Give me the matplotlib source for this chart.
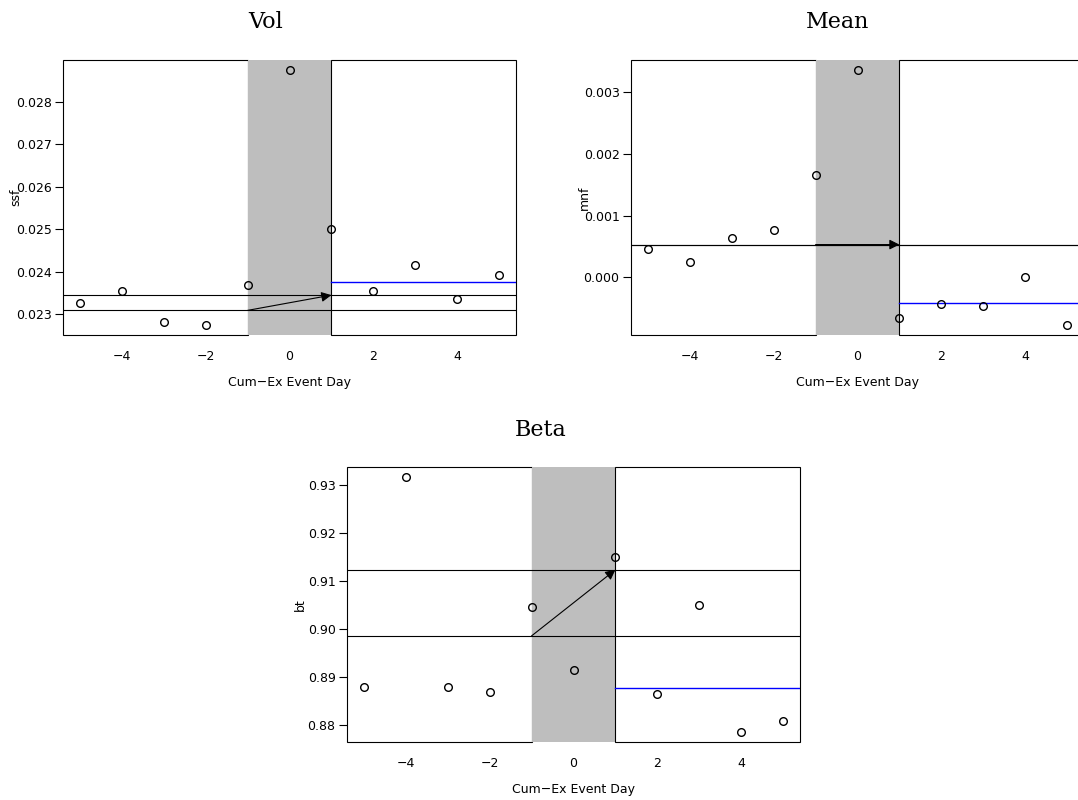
import matplotlib
matplotlib.use("Agg")
import matplotlib.pyplot as plt
from matplotlib.patches import Rectangle
from matplotlib.ticker import FormatStrFormatter

plt.rcParams['font.family'] = ['DejaVu Sans']

days = [-5, -4, -3, -2, -1, 0, 1, 2, 3, 4, 5]
x_ticks = [-4, -2, 0, 2, 4]

vol = [0.02326, 0.02354, 0.02281, 0.02275, 0.02368, 0.02875,
       0.02500, 0.02355, 0.02417, 0.02335, 0.02393]
vol_levels = [0.02309, 0.02345]
vol_post = 0.023755
vol_ticks = [0.023, 0.024, 0.025, 0.026, 0.027, 0.028]

mean = [0.000454, 0.000249, 0.000632, 0.000762, 0.001654, 0.003351,
        -0.000659, -0.000432, -0.000465, 0.000005, -0.000768]
mean_levels = [0.00053, 0.00053]
mean_post = -0.000415
mean_ticks = [0.000, 0.001, 0.002, 0.003]

beta = [0.8879, 0.9317, 0.8879, 0.8868, 0.9046, 0.8914,
        0.9150, 0.8865, 0.9050, 0.8786, 0.8809]
beta_levels = [0.8986, 0.9124]
beta_post = 0.8877
beta_ticks = [0.88, 0.89, 0.90, 0.91, 0.92, 0.93]

W, H = 1078, 800
fig = plt.figure(figsize=(W / 100, H / 100), dpi=100)

AX_W, AX_H = 453, 275
LW = 0.8


def panel(left_px, bottom_px, title, title_xy, ylab, vals, levels, post,
          yticks, fmt):
    ax = fig.add_axes([left_px / W, (H - bottom_px) / H, AX_W / W, AX_H / H])
    xlo, xhi = -5.4, 5.4
    vmin, vmax = min(vals), max(vals)
    r = vmax - vmin
    ylo, yhi = vmin - 0.04 * r, vmax + 0.04 * r
    ax.set_xlim(xlo, xhi)
    ax.set_ylim(ylo, yhi)
    for s in ax.spines.values():
        s.set_visible(False)
    # regions
    ax.add_patch(Rectangle((xlo, ylo), -1 - xlo, yhi - ylo, facecolor='white',
                           edgecolor='black', lw=LW, clip_on=False, zorder=1))
    ax.add_patch(Rectangle((-1, ylo), 2, yhi - ylo, facecolor='#BEBEBE',
                           edgecolor='none', lw=0, clip_on=False, zorder=1))
    ax.add_patch(Rectangle((1, ylo), xhi - 1, yhi - ylo, facecolor='white',
                           edgecolor='black', lw=LW, clip_on=False, zorder=1))
    for lv in levels:
        ax.axhline(lv, color='black', lw=LW, zorder=2)
    ax.plot([1, xhi], [post, post], color='#0000FF', lw=1.0, zorder=2.5)
    ax.annotate('', xy=(1, levels[1]), xytext=(-1, levels[0]),
                arrowprops=dict(arrowstyle='-|>', color='black', lw=LW,
                                mutation_scale=15, shrinkA=0, shrinkB=0),
                zorder=3)
    ax.plot(days, vals, linestyle='none', marker='o', markersize=5.5,
            markerfacecolor='none', markeredgecolor='black',
            markeredgewidth=1.0, zorder=4, clip_on=False)
    ax.set_xticks(x_ticks)
    ax.set_yticks(yticks)
    ax.yaxis.set_major_formatter(FormatStrFormatter(fmt))
    ax.tick_params(axis='x', length=0, pad=11, labelsize=9)
    ax.tick_params(axis='y', length=5.8, width=LW, pad=2.4, labelsize=9,
                   direction='out')
    ax.set_xlabel('Cum\u2212Ex Event Day', fontsize=9)
    ax.xaxis.set_label_coords(0.5, -48 / AX_H)
    ax.xaxis.label.set_va('center')
    ax.set_ylabel(ylab, fontsize=9)
    ax.yaxis.set_label_coords(-47 / AX_W, 0.5)
    ax.yaxis.label.set_va('center')
    ax.yaxis.label.set_ha('center')
    fig.text(title_xy[0] / W, 1 - title_xy[1] / H, title, family='DejaVu Serif',
             fontsize=16, ha='center', va='center')
    return ax


panel(63, 335, 'Vol', (266, 22), 'ssf', vol, vol_levels, vol_post,
      vol_ticks, '%.3f')
panel(631, 335, 'Mean', (838, 22), 'mnf', mean, mean_levels, mean_post,
      mean_ticks, '%.3f')
panel(347, 742, 'Beta', (541, 430), 'bt', beta, beta_levels, beta_post,
      beta_ticks, '%.2f')

fig.savefig('out.png', dpi=100)
